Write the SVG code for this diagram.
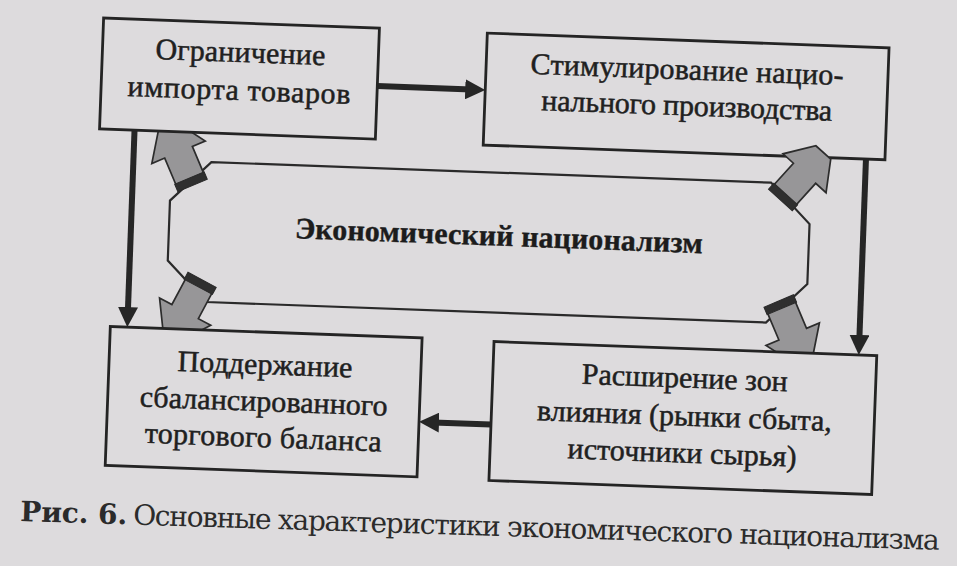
<svg xmlns="http://www.w3.org/2000/svg" width="957" height="566" viewBox="0 0 957 566">
  <defs>
    <style>
      .box { fill: #dddbdd; stroke: #242424; stroke-width: 2.8; }
      .oct { fill: none; stroke: #2a2a2a; stroke-width: 2.2; stroke-linejoin: miter; }
      .lbl { font-family: "Liberation Serif", "Times New Roman", serif; font-size: 30px; fill: #202020; text-anchor: middle; stroke: #202020; stroke-width: 0.5; }
      .title { font-family: "Liberation Serif", "Times New Roman", serif; font-size: 30px; font-weight: bold; fill: #1c1c1c; text-anchor: middle; stroke: #1c1c1c; stroke-width: 0.4; }
      .conn { stroke: #262626; stroke-width: 6; fill: none; marker-end: url(#ah); }
      .fatbody { fill: #979698; stroke: #2c2c2c; stroke-width: 1.7; stroke-linejoin: miter; }
      .band { fill: #2f2f2f; stroke: #2a2a2a; stroke-width: 1; }
      .cap { font-family: "DejaVu Serif", "Liberation Serif", serif; font-size: 28px; fill: #2b2b2b; }
    </style>
    <marker id="ah" markerUnits="userSpaceOnUse" markerWidth="20" markerHeight="20" refX="6" refY="10" orient="auto" viewBox="0 0 20 20">
      <path d="M0,0 L20,10 L0,20 z" fill="#262626"/>
    </marker>
    <g id="fat">
      <polygon class="fatbody" points="6,-15 36,-15 36,-29 64,-10 64,10 36,29 36,15 6,15"/>
      <polygon class="band" points="0,-16 8,-16 8,16 0,16"/>
    </g>
  </defs>

  <rect x="0" y="0" width="957" height="566" fill="#dddbdd"/>

  <g transform="rotate(2.1 480 260)">
    <g id="center">
      <path class="oct" d="M208,172 L768,172 L808,212 L808,272 L768,312 L208,312 L168,272 L168,212 Z"/>
      <text class="title" x="498" y="245" textLength="408">Экономический национализм</text>
    </g>

    <g id="connectors">
      <line class="conn" x1="371" y1="90" x2="465" y2="90"/>
      <line class="conn" x1="862" y1="145" x2="862" y2="327"/>
      <line class="conn" x1="497" y1="424" x2="439" y2="424"/>
      <line class="conn" x1="130" y1="143" x2="130" y2="326"/>
    </g>

    <g id="fat-arrows">
      <use href="#fat" transform="translate(190,196) rotate(-115)"/>
      <use href="#fat" transform="translate(203,290) rotate(116)"/>
      <use href="#fat" transform="translate(780,290) rotate(65)"/>
    </g>

    <g id="box-import">
      <rect class="box" x="95" y="32" width="276" height="111"/>
      <text class="lbl" x="233" y="71" textLength="170">Ограничение</text>
      <text class="lbl" x="233" y="109" textLength="223">импорта товаров</text>
    </g>

    <g id="box-production">
      <rect class="box" x="479" y="33" width="402" height="112"/>
      <text class="lbl" x="680" y="72" textLength="313">Стимулирование нацио-</text>
      <text class="lbl" x="681" y="108" textLength="291">нального производства</text>
    </g>

    <g id="box-balance">
      <rect class="box" x="113" y="340" width="312" height="139"/>
      <text class="lbl" x="269" y="382" textLength="175">Поддержание</text>
      <text class="lbl" x="269" y="419" textLength="248">сбалансированного</text>
      <text class="lbl" x="270" y="455" textLength="237">торгового баланса</text>
    </g>

    <g id="box-expansion">
      <rect class="box" x="497" y="341" width="383" height="139"/>
      <text class="lbl" x="689" y="380" textLength="206">Расширение зон</text>
      <text class="lbl" x="690" y="418" textLength="295">влияния (рынки сбыта,</text>
      <text class="lbl" x="689" y="455" textLength="229">источники сырья)</text>
    </g>

    <g id="fat-arrow-top-right">
      <use href="#fat" transform="translate(778,189) rotate(-50)"/>
    </g>
  </g>

  <g id="caption" transform="rotate(1.8 20 521)">
    <text class="cap" x="20" y="521" font-weight="bold" textLength="107">Рис. 6.</text>
    <text class="cap" x="133" y="521" textLength="807">Основные характеристики экономического национализма</text>
  </g>
</svg>
